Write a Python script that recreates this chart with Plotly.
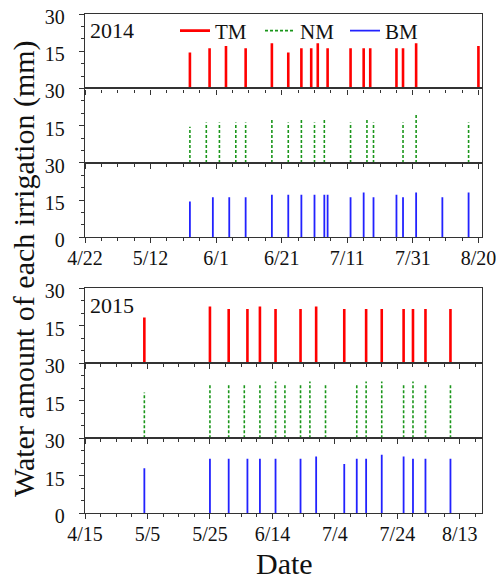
import plotly.graph_objects as go

# ---------------- data ----------------
tm14_dates = ['2014-05-24', '2014-05-30', '2014-06-04', '2014-06-10', '2014-06-18', '2014-06-23',
              '2014-06-27', '2014-06-30', '2014-07-02', '2014-07-05', '2014-07-12', '2014-07-16',
              '2014-07-18', '2014-07-26', '2014-07-28', '2014-08-01', '2014-08-20']
tm14_vals = [14.5, 16.2, 17.1, 16.2, 18.2, 14.5, 16.2, 16.2, 18.2, 16.2, 16.2, 16.2,
             16.2, 16.2, 16.2, 18.2, 17.1]

nm14_dates = ['2014-05-24', '2014-05-29', '2014-06-02', '2014-06-07', '2014-06-10', '2014-06-18',
              '2014-06-23', '2014-06-27', '2014-07-01', '2014-07-04', '2014-07-12', '2014-07-17',
              '2014-07-19', '2014-07-28', '2014-08-01', '2014-08-17']
nm14_vals = [14.6, 16.3, 16.3, 16.3, 16.3, 17.4, 16.3, 17.4, 16.3, 17.4, 16.3, 17.4,
             16.3, 16.3, 19.3, 16.3]

bm14_dates = ['2014-05-24', '2014-05-31', '2014-06-05', '2014-06-10', '2014-06-18', '2014-06-23',
              '2014-06-27', '2014-07-01', '2014-07-04', '2014-07-05', '2014-07-12', '2014-07-16',
              '2014-07-19', '2014-07-26', '2014-07-28', '2014-08-01', '2014-08-09', '2014-08-17']
bm14_vals = [14.4, 16.1, 16.1, 16.1, 17.2, 17.2, 17.2, 17.2, 17.2, 17.2, 16.1, 18.1,
             16.1, 17.2, 16.1, 18.1, 16.1, 18.1]

tm15_dates = ['2015-05-04', '2015-05-25', '2015-05-31', '2015-06-06', '2015-06-10', '2015-06-15',
              '2015-06-23', '2015-06-28', '2015-07-07', '2015-07-14', '2015-07-19', '2015-07-26',
              '2015-07-29', '2015-08-02', '2015-08-10']
tm15_vals = [18.3, 22.7, 21.7, 21.7, 22.7, 21.7, 21.7, 22.7, 21.7, 21.7, 21.7, 21.7,
             21.7, 21.7, 21.7]

nm15_dates = ['2015-05-04', '2015-05-25', '2015-05-31', '2015-06-05', '2015-06-10', '2015-06-15',
              '2015-06-18', '2015-06-23', '2015-06-26', '2015-07-01', '2015-07-11', '2015-07-14',
              '2015-07-19', '2015-07-26', '2015-07-29', '2015-08-02', '2015-08-10']
nm15_vals = [18.3, 21.7, 21.7, 21.7, 21.7, 22.7, 21.7, 21.7, 22.7, 21.7, 21.7, 22.7,
             22.7, 21.7, 22.7, 21.7, 21.7]

bm15_dates = ['2015-05-04', '2015-05-25', '2015-05-31', '2015-06-06', '2015-06-10', '2015-06-15',
              '2015-06-23', '2015-06-28', '2015-07-07', '2015-07-11', '2015-07-14', '2015-07-19',
              '2015-07-26', '2015-07-29', '2015-08-02', '2015-08-10']
bm15_vals = [18.0, 21.8, 21.8, 21.8, 21.8, 21.8, 21.8, 22.7, 19.7, 21.8, 21.8, 23.4,
             22.7, 21.8, 21.8, 21.8]

series_names = ['TM', 'NM', 'BM']
year_labels = ['2014', '2015']
x_ranges = [['2014-04-22', '2014-08-21'], ['2015-04-15', '2015-08-20']]
x_tick0 = ['2014-04-22', '2015-04-15']
y_ticks = [0, 15, 30]

# ---------------- styles ----------------
FONT = 'Liberation Serif'
AXC = '#333333'
DAY = 86400000
OFF = 8                      # page body margin of the html page
W, H = 504 - OFF, 579 - OFF  # figure size so that it fills the window


def px(v):  # page x -> paper fraction
    return (v - OFF) / W


def py(v):  # page y -> paper fraction
    return 1 - (v - OFF) / H


styles = {
    'TM': dict(color='#ff0000', width=2.6, dash='solid'),
    'NM': dict(color='#1a961a', width=1.6, dash='3px,2px'),
    'BM': dict(color='#2222ff', width=1.8, dash='solid'),
}

panels = [
    (0, 'TM', tm14_dates, tm14_vals, (14.0, 88.4)),
    (0, 'NM', nm14_dates, nm14_vals, (88.4, 162.9)),
    (0, 'BM', bm14_dates, bm14_vals, (162.9, 237.3)),
    (1, 'TM', tm15_dates, tm15_vals, (288.3, 363.3)),
    (1, 'NM', nm15_dates, nm15_vals, (363.3, 438.3)),
    (1, 'BM', bm15_dates, bm15_vals, (438.3, 513.3)),
]

fig = go.Figure()
layout = {}
xdom = [px(85), px(481.7)]

for i, (yr, name, dates, vals, (ptop, pbot)) in enumerate(panels):
    k = i + 1
    xs, ys = [], []
    for d, v in zip(dates, vals):
        xs += [d, d, None]
        ys += [0, v, None]
    fig.add_trace(go.Scatter(
        x=xs, y=ys, mode='lines', name=name,
        line=styles[name], showlegend=(yr == 0),
        xaxis='x' if k == 1 else f'x{k}', yaxis='y' if k == 1 else f'y{k}',
        hoverinfo='skip'))
    bottom = name == 'BM'
    xa = dict(
        domain=xdom, type='date', range=x_ranges[yr], automargin=False,
        anchor='y' if k == 1 else f'y{k}',
        showline=True, mirror=True, linecolor=AXC, linewidth=1.3,
        showgrid=False, zeroline=False,
        ticks='outside', ticklen=5, tickwidth=1.1, tickcolor=AXC,
        tickmode='linear', tick0=x_tick0[yr], dtick=20 * DAY,
        tickformat='%-m/%-d', showticklabels=bottom, ticklabelstandoff=-2,
        ticklabeloverflow='allow',
        tickfont=dict(family=FONT, size=20, color='#111'),
        minor=dict(ticks='outside', ticklen=3, tickwidth=1.1, tickcolor=AXC,
                   tick0=x_tick0[yr], dtick=5 * DAY, showgrid=False),
    )
    ya = dict(
        domain=[py(pbot), py(ptop)], range=[0, 30], automargin=False,
        anchor='x' if k == 1 else f'x{k}',
        showline=True, mirror=True, linecolor=AXC, linewidth=1.3,
        showgrid=False, zeroline=False,
        ticks='outside', ticklen=5, tickwidth=1.1, tickcolor=AXC,
        tickmode='array', tickvals=y_ticks if bottom else y_ticks[1:],
        ticklabelstandoff=10, ticklabeloverflow='allow', ticklabelshift=3,
        tickfont=dict(family=FONT, size=20, color='#111'),
        minor=dict(ticks='outside', ticklen=3, tickwidth=1.1, tickcolor=AXC,
                   tick0=0, dtick=5, showgrid=False),
    )
    layout['xaxis' if k == 1 else f'xaxis{k}'] = xa
    layout['yaxis' if k == 1 else f'yaxis{k}'] = ya

annotations = [
    dict(text='Water amount of each irrigation (mm)', x=px(24), y=py(269),
         xref='paper', yref='paper', textangle=-90, showarrow=False,
         font=dict(family=FONT, size=30, color='#111'), xanchor='center', yanchor='middle'),
    dict(text='Date', x=px(284), y=py(563), xref='paper', yref='paper',
         showarrow=False, font=dict(family=FONT, size=30, color='#111'),
         xanchor='center', yanchor='middle'),
    dict(text=year_labels[0], x=px(88), y=py(30.5), xref='paper', yref='paper',
         showarrow=False, font=dict(family=FONT, size=22, color='#111'),
         xanchor='left', yanchor='middle'),
    dict(text=year_labels[1], x=px(88), y=py(305.5), xref='paper', yref='paper',
         showarrow=False, font=dict(family=FONT, size=22, color='#111'),
         xanchor='left', yanchor='middle'),
]

fig.update_layout(
    width=W, height=H,
    margin=dict(l=0, r=0, t=0, b=0, autoexpand=False),
    paper_bgcolor='white', plot_bgcolor='white',
    showlegend=True,
    legend=dict(orientation='h', x=px(175), xanchor='left', y=py(31), yanchor='middle',
                font=dict(family=FONT, size=21, color='#111'),
                bgcolor='rgba(0,0,0,0)', borderwidth=0, entrywidth=40,
                itemwidth=30, tracegroupgap=0),
    annotations=annotations,
    **layout,
)

fig.write_html('out.html')
